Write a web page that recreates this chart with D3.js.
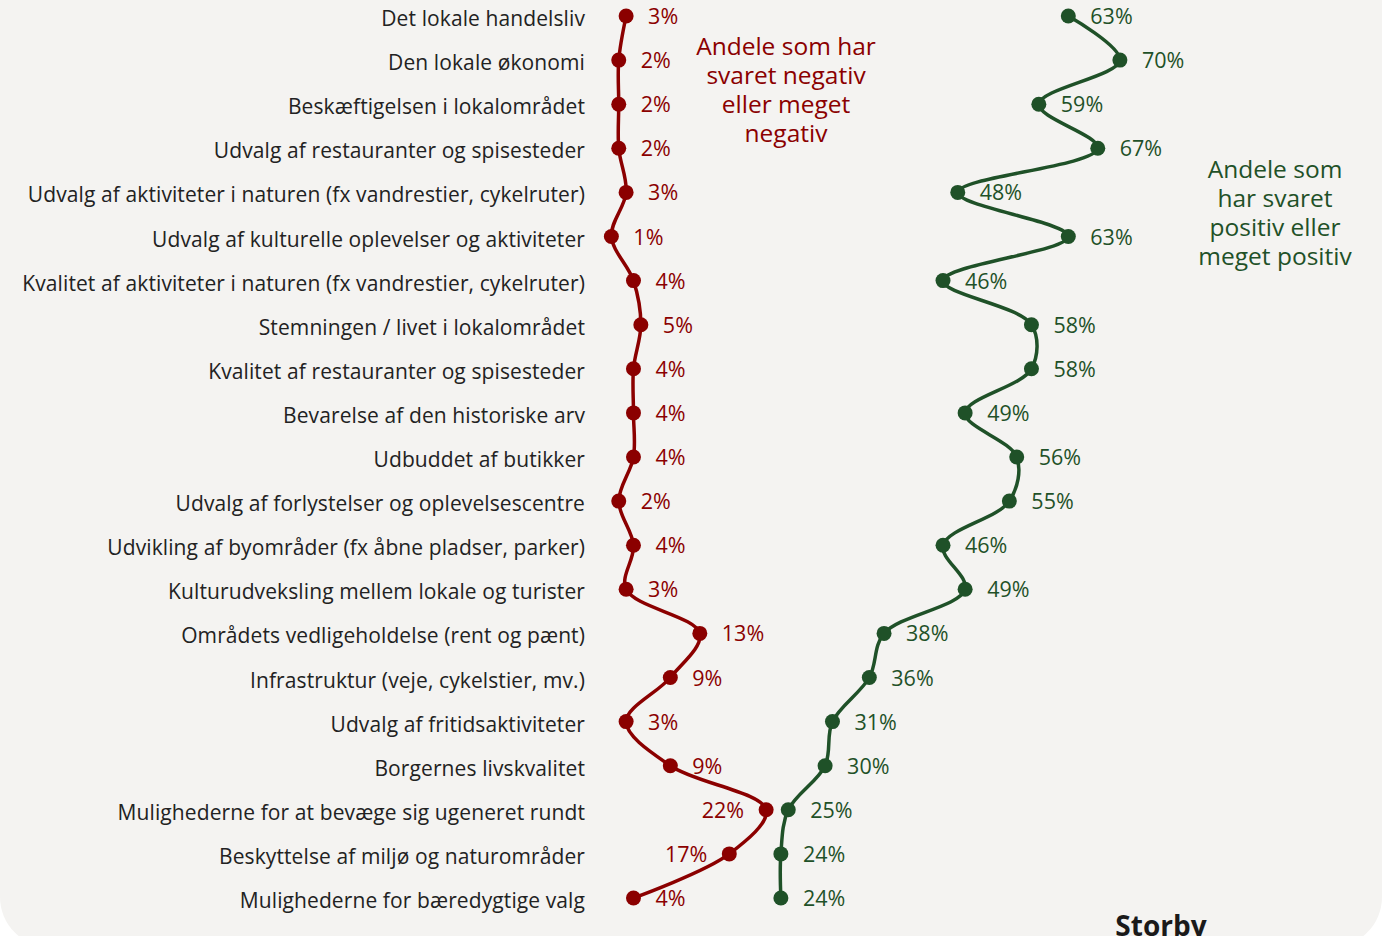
<!DOCTYPE html>
<html>
<head>
<meta charset="utf-8">
<script src="https://cdn.jsdelivr.net/npm/d3@7"></script>
<style>
  html, body { margin: 0; padding: 0; background: #ffffff; }
  svg { display: block; font-family: "Open Sans", sans-serif; }
</style>
</head>
<body>
<svg id="svg"></svg>
<script>
// labels, top to bottom
const categories = [
  "Det lokale handelsliv",
  "Den lokale økonomi",
  "Beskæftigelsen i lokalområdet",
  "Udvalg af restauranter og spisesteder",
  "Udvalg af aktiviteter i naturen (fx vandrestier, cykelruter)",
  "Udvalg af kulturelle oplevelser og aktiviteter",
  "Kvalitet af aktiviteter i naturen (fx vandrestier, cykelruter)",
  "Stemningen / livet i lokalområdet",
  "Kvalitet af restauranter og spisesteder",
  "Bevarelse af den historiske arv",
  "Udbuddet af butikker",
  "Udvalg af forlystelser og oplevelsescentre",
  "Udvikling af byområder (fx åbne pladser, parker)",
  "Kulturudveksling mellem lokale og turister",
  "Områdets vedligeholdelse (rent og pænt)",
  "Infrastruktur (veje, cykelstier, mv.)",
  "Udvalg af fritidsaktiviteter",
  "Borgernes livskvalitet",
  "Mulighederne for at bevæge sig ugeneret rundt",
  "Beskyttelse af miljø og naturområder",
  "Mulighederne for bæredygtige valg"
];
const negative = [3, 2, 2, 2, 3, 1, 4, 5, 4, 4, 4, 2, 4, 3, 13, 9, 3, 9, 22, 17, 4];
const positive = [63, 70, 59, 67, 48, 63, 46, 58, 58, 49, 56, 55, 46, 49, 38, 36, 31, 30, 25, 24, 24];

const negNote = ["Andele som har", "svaret negativ", "eller meget", "negativ"];
const posNote = ["Andele som", "har svaret", "positiv eller", "meget positiv"];
const panelTitle = "Storby";

let width = 1382, height = 936;
const red = "#8b0000", green = "#1f5128", textColor = "#222";

let svg = d3.select("#svg").attr("width", width).attr("height", height);

// panel background, rounded at the bottom
let r = 50, pb = 947;
svg.append("path")
  .attr("d", `M0,-10 L${width},-10 L${width},${pb - r} A${r},${r} 0 0 1 ${width - r},${pb} L${r},${pb} A${r},${r} 0 0 1 0,${pb - r} Z`)
  .attr("fill", "#f4f3f1");

let x = d3.scaleLinear().domain([0, 100]).range([604, 1341]);
let y = d3.scalePoint().domain(categories).range([16, 898]);

// category labels
svg.append("g").selectAll("text")
  .data(categories)
  .join("text")
  .attr("x", 585)
  .attr("y", d => y(d) + 10)
  .attr("text-anchor", "end")
  .attr("font-size", 21)
  .attr("letter-spacing", 0.1)
  .attr("fill", textColor)
  .text(d => d);

let line = d3.line()
  .x(d => x(d.v))
  .y(d => y(d.c))
  .curve(d3.curveCatmullRom);

function drawSeries(values, color, leftOf) {
  let pts = values.map((v, i) => ({ c: categories[i], v: v }));
  let g = svg.append("g");
  g.append("path")
    .datum(pts)
    .attr("d", line)
    .attr("fill", "none")
    .attr("stroke", color)
    .attr("stroke-width", 3.5);
  g.selectAll("circle")
    .data(pts)
    .join("circle")
    .attr("cx", d => x(d.v))
    .attr("cy", d => y(d.c))
    .attr("r", 7.5)
    .attr("fill", color);
  g.selectAll("text")
    .data(pts)
    .join("text")
    .attr("x", d => leftOf(d) ? x(d.v) - 22 : x(d.v) + 22)
    .attr("y", d => y(d.c) + 8)
    .attr("text-anchor", d => leftOf(d) ? "end" : "start")
    .attr("font-size", 21.5)
    .attr("fill", color)
    .text(d => d.v + "%");
}

drawSeries(negative, red, d => d.v >= 15);
drawSeries(positive, green, d => false);

// notes
svg.append("text")
  .attr("text-anchor", "middle")
  .attr("font-size", 24.5)
  .attr("fill", red)
  .selectAll("tspan")
  .data(negNote)
  .join("tspan")
  .attr("x", 786)
  .attr("y", (d, i) => 55 + i * 29)
  .text(d => d);

svg.append("text")
  .attr("text-anchor", "middle")
  .attr("font-size", 24.5)
  .attr("fill", green)
  .selectAll("tspan")
  .data(posNote)
  .join("tspan")
  .attr("x", 1275)
  .attr("y", (d, i) => 178 + i * 29)
  .text(d => d);

svg.append("text")
  .attr("x", 1161)
  .attr("y", 936)
  .attr("text-anchor", "middle")
  .attr("font-size", 28)
  .attr("font-weight", "bold")
  .attr("fill", "#1a1a1a")
  .text(panelTitle);
</script>
</body>
</html>
